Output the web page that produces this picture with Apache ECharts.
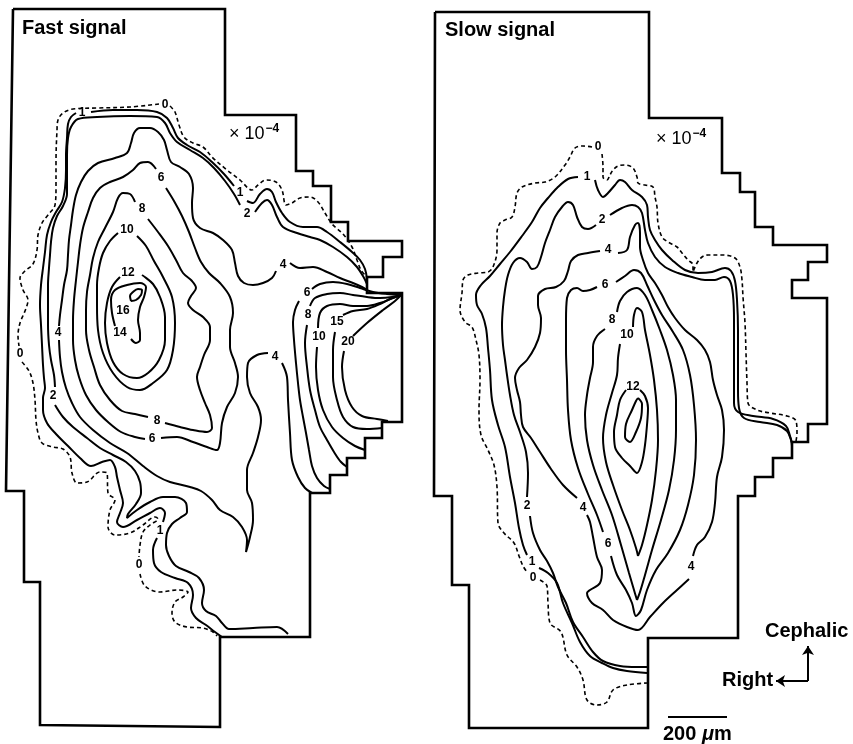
<!DOCTYPE html>
<html>
<head>
<meta charset="utf-8">
<script src="https://cdn.jsdelivr.net/npm/echarts@6/dist/echarts.min.js"></script>
<style>
  html, body { margin: 0; padding: 0; background: #fff; }
  #chart { width: 853px; height: 744px; }
</style>
</head>
<body>
<div id="chart"></div>
<script>
// all points are in picture units (x right, y down), drawn through hidden value axes

// ---- Fast signal panel ----
const fastOutline = [[13,9],[225,9],[225,115],[296,115],[296,171],[313,171],[313,186],[331,186],[331,222],[348,222],[348,241],[402,241],[402,257],[383,257],[383,277],[367,277],[367,293],[402,293],[402,422],[382,422],[382,438],[365,438],[365,458],[347,458],[347,475],[330,475],[330,493],[310,493],[310,637],[220,637],[220,727],[40,725],[40,582],[24,582],[24,491],[6,491],[13,9]];

const fast0a = [[170,106],[175,112],[179,125],[184,137],[193,143],[203,147],[212,157],[227,170],[240,180],[252,190],[258,185],[266,180],[276,182],[282,190],[286,205],[292,203],[300,198],[310,197],[318,202],[325,213],[332,224],[343,234],[352,247],[357,260],[361,270],[366,276]];
const fast0b = [[159,104],[130,107],[97,108],[73,109],[63,113],[58,120],[57,130],[56,162],[56,188],[55,205],[48,215],[42,223],[38,235],[37,250],[33,264],[25,271],[20,278],[23,290],[28,300],[25,311],[20,323],[18,336],[19,346]];
const fast0c = [[22,362],[29,371],[33,383],[35,400],[36,420],[38,433],[42,443],[53,447],[63,449],[70,457],[72,473],[77,483],[87,482],[100,472],[107,473],[108,493],[115,500],[110,510],[108,527],[115,535],[130,533],[143,525],[155,517],[158,519],[150,525],[143,532],[140,545],[139,557]];
const fast0d = [[140,574],[145,586],[160,592],[177,590],[188,592],[183,597],[175,602],[172,613],[175,622],[187,627],[203,628],[213,632],[217,636]];

const fast1a = [[91,112],[113,110],[137,110],[157,112],[167,118],[173,128],[178,138],[187,145],[200,152],[212,162],[224,174],[234,186]];
const fast1b = [[247,201],[253,203],[260,194],[267,189],[272,192],[276,202],[282,213],[290,222],[303,227],[317,227],[327,232],[340,242],[352,252],[360,260],[365,269],[367,279]];
const fast1c = [[76,113],[71,117],[68,124],[67,138],[66,155],[66,170],[65,188],[62,202],[56,212],[51,222],[47,235],[45,252],[43,268],[41,285],[40,305],[41,325],[42,345],[43,365],[44,378],[45,388],[43,398],[43,410],[47,423],[56,434],[68,446],[80,458],[91,466],[102,462],[110,460],[115,467],[117,477],[120,490],[123,503],[120,513],[117,522],[123,527],[137,520],[150,513],[160,508],[165,513],[163,522]];
const fast1d = [[157,538],[153,550],[154,563],[161,572],[175,578],[188,583],[193,595],[191,608],[196,618],[206,625],[215,632],[222,637]];

const fast2a = [[55,387],[54,375],[51,360],[49,345],[48,325],[48,305],[48,285],[49,268],[50,255],[51,242],[53,228],[57,216],[63,206],[67,194],[67,175],[67,155],[68,138],[71,127],[78,119],[97,117],[130,116],[157,117],[165,123],[170,133],[177,142],[190,150],[203,158],[214,168],[225,181],[234,194],[240,205]];
const fast2b = [[255,212],[262,203],[267,200],[272,205],[277,217],[283,227],[297,233],[310,237],[320,240],[333,247],[347,257],[357,267],[363,276],[367,284]];
const fast2c = [[55,405],[63,417],[73,427],[87,438],[100,448],[113,455],[126,462],[135,471],[140,482],[141,493],[136,504],[128,514],[127,518],[137,510],[150,502],[163,497],[175,497],[186,503],[187,512],[180,518],[172,524],[167,533],[166,545],[169,556],[176,566],[189,572],[199,578],[204,590],[202,603],[206,611],[216,616],[222,623],[229,629],[253,628],[277,627],[288,634]];

const fast4a = [[59,326],[60,315],[62,300],[64,285],[67,270],[68,255],[69,240],[71,225],[73,210],[76,195],[81,182],[88,171],[98,163],[115,158],[127,153],[131,143],[134,133],[140,128],[150,128],[158,132],[164,140],[167,150],[171,162],[180,167],[189,174],[193,188],[192,203],[193,218],[200,228],[213,233],[223,240],[232,250],[235,263],[238,276],[244,283],[253,285],[263,283],[272,278],[276,271]];
const fast4b = [[290,263],[300,268],[313,267],[327,272],[340,278],[353,283],[362,287],[367,290]];
const fast4c = [[59,340],[60,357],[62,372],[66,388],[72,403],[80,417],[93,430],[110,443],[127,453],[143,466],[157,476],[170,482],[190,487],[201,491],[212,500],[220,510],[233,517],[242,527],[247,540],[246,552],[250,537],[253,520],[252,503],[247,490],[247,470],[253,453],[258,437],[261,420],[258,407],[250,393],[247,377],[248,363],[257,355],[268,353]];
const fast4d = [[282,363],[287,377],[288,400],[290,433],[292,460],[298,477],[305,488],[312,493]];

const fast6a = [[156,169],[148,162],[140,163],[133,170],[123,177],[110,182],[100,188],[93,198],[88,212],[83,228],[80,245],[78,262],[76,280],[74,300],[73,320],[73,340],[75,360],[79,377],[86,395],[96,410],[108,422],[121,432],[135,437],[145,439]];
const fast6b = [[161,438],[177,437],[193,442],[207,447],[217,450],[220,443],[222,423],[227,407],[235,393],[238,377],[235,363],[230,347],[230,330],[233,313],[230,297],[220,283],[209,273],[201,262],[195,248],[189,232],[182,216],[174,201],[166,188]];
const fast6c = [[299,301],[295,310],[293,322],[294,340],[296,363],[298,383],[300,400],[303,417],[306,433],[309,450],[312,466],[317,478],[324,486],[330,489]];
const fast6d = [[312,289],[320,284],[333,282],[347,284],[360,288],[373,292],[387,294],[401,295]];

const fast8a = [[135,202],[130,194],[123,193],[118,198],[113,212],[105,228],[98,242],[93,258],[90,275],[87,292],[86,310],[86,330],[89,350],[94,367],[100,385],[110,400],[122,411],[135,414],[148,417]];
const fast8b = [[165,423],[180,427],[193,430],[207,432],[212,428],[210,415],[205,403],[200,390],[197,377],[200,367],[204,355],[210,340],[210,327],[203,317],[193,310],[188,303],[191,296],[196,288],[192,281],[183,273],[176,260],[168,246],[158,232],[148,219]];
const fast8c = [[307,325],[305,343],[307,367],[310,390],[315,410],[320,427],[327,440],[334,452],[341,462],[347,467]];
const fast8d = [[310,306],[315,298],[327,294],[340,293],[353,295],[367,297],[380,298],[392,297],[401,295]];

const fast10 = [[118,233],[110,241],[103,253],[99,268],[97,285],[97,305],[98,330],[103,353],[113,373],[127,387],[140,390],[153,383],[167,370],[173,350],[175,323],[172,297],[163,277],[154,261],[146,246],[137,236]];
const fast10c = [[317,347],[316,367],[318,390],[323,410],[332,427],[343,438],[355,446],[365,450]];
const fast10d = [[318,328],[320,313],[327,306],[340,304],[353,306],[367,306],[380,303],[393,298],[401,295]];
const fast12 = [[120,277],[112,287],[107,303],[105,323],[107,343],[113,362],[123,374],[137,378],[148,373],[159,360],[165,340],[165,317],[160,297],[153,284],[142,275]];
const fast14 = [[115,326],[112,313],[111,300],[115,290],[127,285],[140,283],[146,287],[144,297],[140,307],[138,320],[140,333],[140,340],[136,343],[131,339]];
const fast16 = [[131,301],[130,296],[133,292],[138,289],[142,290],[141,295],[136,300],[131,301]];
const fast15c = [[335,332],[333,350],[333,377],[337,400],[343,417],[353,427],[367,429],[382,428]];
const fast15d = [[343,315],[353,311],[367,309],[380,304],[390,299],[401,295]];
const fast20c = [[344,351],[342,367],[345,390],[352,407],[362,416],[377,419],[388,421]];
const fast20d = [[353,336],[367,323],[383,310],[395,301],[401,295]];

const fastLabels = [[165,105,'0'],[82,113,'1'],[20,354,'0'],[58,333,'4'],[53,396,'2'],[161,178,'6'],[142,209,'8'],[127,230,'10'],[128,273,'12'],[123,311,'16'],[120,333,'14'],[157,421,'8'],[152,439,'6'],[240,193,'1'],[247,214,'2'],[283,265,'4'],[275,357,'4'],[307,293,'6'],[308,315,'8'],[319,337,'10'],[337,322,'15'],[348,342,'20'],[160,531,'1'],[139,565,'0']];

// ---- Slow signal panel ----
const slowOutline = [[435,12],[649,12],[649,118],[722,118],[722,173],[740,173],[740,192],[755,192],[755,227],[773,227],[773,245],[827,245],[827,262],[808,262],[808,280],[792,280],[792,298],[827,298],[827,424],[808,424],[808,442],[792,442],[792,458],[773,458],[773,477],[755,477],[755,496],[738,496],[738,638],[648,638],[648,728],[469,728],[469,585],[452,585],[452,496],[434,496],[435,12]];

const slow0a = [[602,154],[603,167],[603,177],[607,180],[610,175],[613,170],[618,166],[625,165],[633,168],[637,177],[638,183],[645,185],[653,187],[655,197],[657,207],[658,223],[662,237],[668,242],[677,247],[682,253],[688,260],[693,265],[693,272],[697,263],[702,257],[708,255],[722,255],[735,258],[740,267],[742,280],[743,297],[745,323],[746,353],[747,383],[748,403],[757,410],[770,413],[787,416],[796,421],[797,433],[796,441]];
const slow0b = [[592,147],[583,146],[575,148],[570,157],[565,165],[555,177],[545,182],[535,183],[522,187],[517,193],[515,207],[512,217],[505,220],[500,223],[497,233],[497,250],[493,267],[488,272],[478,273],[468,275],[463,280],[462,293],[460,310],[465,322],[472,327],[476,340],[479,355],[480,380],[479,410],[481,435],[488,450],[494,465],[497,487],[498,523],[504,533],[514,543],[519,556],[523,566],[527,572]];
const slow0c = [[540,580],[547,586],[548,603],[550,623],[561,632],[567,655],[577,667],[583,680],[587,700],[597,705],[607,702],[613,690],[627,685],[647,683]];

const slow1a = [[595,180],[598,190],[603,197],[608,193],[615,185],[620,180],[625,182],[632,190],[642,197],[647,205],[648,217],[650,230],[655,240],[662,250],[672,260],[685,270],[698,273],[712,272],[725,268],[731,271],[735,281],[737,300],[738,330],[738,360],[738,390],[739,408],[744,418],[760,422],[777,425],[787,431],[791,440],[792,446]];
const slow1b = [[578,177],[568,179],[557,188],[548,198],[540,208],[532,222],[522,236],[510,252],[500,264],[490,276],[481,285],[476,295],[477,305],[482,314],[486,328],[488,348],[490,370],[492,400],[498,425],[505,447],[510,477],[515,503],[519,528],[523,545],[527,555]];
const slow1c = [[539,568],[548,573],[557,583],[563,603],[572,623],[580,642],[590,656],[602,663],[613,668],[627,671],[647,673]];

const slow2a = [[610,215],[622,208],[632,205],[638,207],[642,213],[645,230],[648,243],[655,257],[665,267],[678,273],[692,277],[705,280],[715,280],[724,277],[730,281],[733,295],[734,320],[734,350],[734,383],[734,403],[738,412],[753,416],[773,419],[786,426],[790,436],[792,443]];
const slow2b = [[596,225],[588,229],[582,227],[577,217],[573,205],[568,202],[562,207],[555,217],[550,230],[545,243],[541,257],[537,267],[532,269],[527,262],[520,258],[513,263],[508,275],[505,290],[503,307],[502,325],[503,345],[505,360],[507,375],[510,395],[514,415],[520,432],[526,452],[528,473],[527,497]];
const slow2c = [[530,516],[533,533],[540,550],[547,561],[553,573],[558,587],[566,603],[573,622],[583,637],[593,652],[603,661],[620,666],[637,667],[647,667]];

const slow4a = [[618,253],[627,250],[630,237],[635,225],[638,223],[640,233],[640,247],[643,260],[648,273],[655,283],[662,295],[668,307],[675,318],[685,330],[697,340],[705,350],[710,362],[713,380],[717,395],[722,410],[724,430],[722,457],[717,477],[715,503],[712,522],[705,537],[697,545],[693,556]];
const slow4b = [[689,579],[677,590],[663,603],[650,617],[638,630],[627,627],[613,620],[603,610],[592,603],[587,593],[590,590],[600,583],[602,570],[597,557],[593,537],[590,522],[587,515]];
const slow4c = [[577,498],[563,485],[551,469],[540,452],[531,438],[523,427],[521,415],[520,402],[517,390],[515,378],[519,368],[527,360],[535,347],[540,333],[541,318],[538,305],[538,296],[545,289],[556,287],[564,281],[568,271],[571,261],[578,255],[588,253],[600,251]];

const slow6a = [[597,287],[590,290],[583,291],[577,288],[571,290],[567,298],[566,320],[566,350],[567,380],[568,410],[571,440],[578,468],[588,494],[597,515],[603,532]];
const slow6b = [[611,556],[617,575],[626,590],[632,603],[636,616],[641,610],[647,590],[656,570],[668,553],[680,530],[688,505],[694,475],[696,440],[694,405],[690,375],[683,350],[673,332],[662,315],[654,300],[647,285],[641,273],[634,270],[625,276],[616,282]];

const slow8a = [[605,329],[597,336],[593,347],[593,362],[590,378],[587,395],[585,415],[587,440],[593,465],[602,490],[612,515],[621,545],[629,573],[634,590],[637,600]];
const slow8b = [[617,312],[620,301],[627,292],[637,288],[645,295],[652,310],[660,330],[667,350],[673,375],[676,400],[676,430],[674,460],[669,490],[661,520],[652,550],[645,575],[640,592],[637,600]];

const slow10a = [[620,344],[618,358],[617,375],[612,393],[606,415],[603,438],[606,462],[613,485],[622,510],[630,530],[636,548],[638,556]];
const slow10b = [[633,327],[634,315],[637,308],[642,312],[645,330],[650,355],[654,380],[657,410],[658,440],[656,470],[652,500],[647,525],[642,545],[638,556]];
const slow12 = [[626,390],[620,400],[617,415],[614,432],[615,447],[622,458],[630,466],[637,473],[642,462],[645,445],[647,425],[648,408],[645,396],[640,390]];
const slowInner = [[638,398],[642,404],[641,418],[636,432],[630,442],[625,437],[626,424],[632,410],[636,401],[638,398]];

const slowLabels = [[598,147,'0'],[587,177,'1'],[602,220,'2'],[608,250,'4'],[605,285,'6'],[612,320,'8'],[627,335,'10'],[633,387,'12'],[527,506,'2'],[583,508,'4'],[608,544,'6'],[532,562,'1'],[533,578,'0'],[691,567,'4']];

// ---- annotations ----
const titles = [[22,28,'Fast signal'],[445,30,'Slow signal'],[765,631,'Cephalic'],[722,680,'Right']];
const scaleText = [[663,734]];
const scaleMarks = [[229,133],[656,138]];
const scaleBar = [[668,717],[727,717]];
const arrows = [[[808,681],[808,646]],[[808,681],[776,681]]];

const FONT = "'Liberation Sans', Arial, Helvetica, sans-serif";

const solid = (data) => ({
  type: 'line', data, symbol: 'none', smooth: 0.35, silent: true, z: 2,
  lineStyle: { color: '#000', width: 2 }
});
const dashed = (data) => ({
  type: 'line', data, symbol: 'none', smooth: 0.35, silent: true, z: 2,
  lineStyle: { color: '#000', width: 1.6, type: [4, 3] }
});
const border = (data) => ({
  type: 'line', data, symbol: 'none', silent: true, z: 3,
  lineStyle: { color: '#000', width: 2.6, join: 'miter' }
});
const textSeries = (data, label) => ({
  type: 'scatter', silent: true, z: 5, data,
  symbolSize: 1, itemStyle: { color: 'rgba(255,255,255,0)', opacity: 1 },
  label: Object.assign({ show: true, position: 'inside', color: '#000', opacity: 1, fontFamily: FONT }, label)
});

const solidLines = [
  fast1a, fast1b, fast1c, fast1d, fast2a, fast2b, fast2c, fast4a, fast4b, fast4c, fast4d,
  fast6a, fast6b, fast6c, fast6d, fast8a, fast8b, fast8c, fast8d, fast10, fast10c, fast10d,
  fast12, fast14, fast16, fast15c, fast15d, fast20c, fast20d,
  slow1a, slow1b, slow1c, slow2a, slow2b, slow2c, slow4a, slow4b, slow4c,
  slow6a, slow6b, slow8a, slow8b, slow10a, slow10b, slow12, slowInner
];
const dashedLines = [fast0a, fast0b, fast0c, fast0d, slow0a, slow0b, slow0c];

const series = [
  border(fastOutline),
  border(slowOutline),
  ...solidLines.map(solid),
  ...dashedLines.map(dashed),
  textSeries(fastLabels.concat(slowLabels), {
    formatter: (p) => p.data[2], fontSize: 12, fontWeight: 'bold'
  }),
  textSeries(titles, {
    align: 'left', verticalAlign: 'middle', formatter: (p) => p.data[2],
    fontSize: 20, fontWeight: 'bold'
  }),
  textSeries(scaleText, {
    align: 'left', verticalAlign: 'middle',
    formatter: '{n|200 }{u|\u03bc}{n|m}',
    rich: {
      n: { fontFamily: FONT, fontSize: 20, fontWeight: 'bold', color: '#000' },
      u: { fontFamily: FONT, fontSize: 20, fontWeight: 'bold', fontStyle: 'italic', color: '#000' }
    }
  }),
  textSeries(scaleMarks, {
    align: 'left', verticalAlign: 'middle',
    formatter: '{a|\u00d7 10}{b|\u22124}',
    rich: {
      a: { fontFamily: FONT, fontSize: 18, color: '#000', verticalAlign: 'bottom' },
      b: { fontFamily: FONT, fontSize: 12, fontWeight: 'bold', color: '#000', verticalAlign: 'bottom', padding: [0, 0, 9, 1] }
    }
  }),
  {
    type: 'line', data: scaleBar, symbol: 'none', silent: true, z: 3,
    lineStyle: { color: '#000', width: 2 }
  },
  {
    type: 'lines', coordinateSystem: 'cartesian2d', silent: true, z: 3,
    data: arrows.map((c) => ({ coords: c })),
    symbol: ['none', 'arrow'], symbolSize: 9,
    lineStyle: { color: '#000', width: 2, opacity: 1, curveness: 0 }
  }
];

const chart = echarts.init(document.getElementById('chart'), null, { renderer: 'canvas' });
chart.setOption({
  animation: false,
  backgroundColor: '#fff',
  grid: { left: 0, right: 0, top: 0, bottom: 0 },
  xAxis: { type: 'value', min: 0, max: 853, show: false },
  yAxis: { type: 'value', min: 0, max: 744, inverse: true, show: false },
  series
});
</script>
</body>
</html>
